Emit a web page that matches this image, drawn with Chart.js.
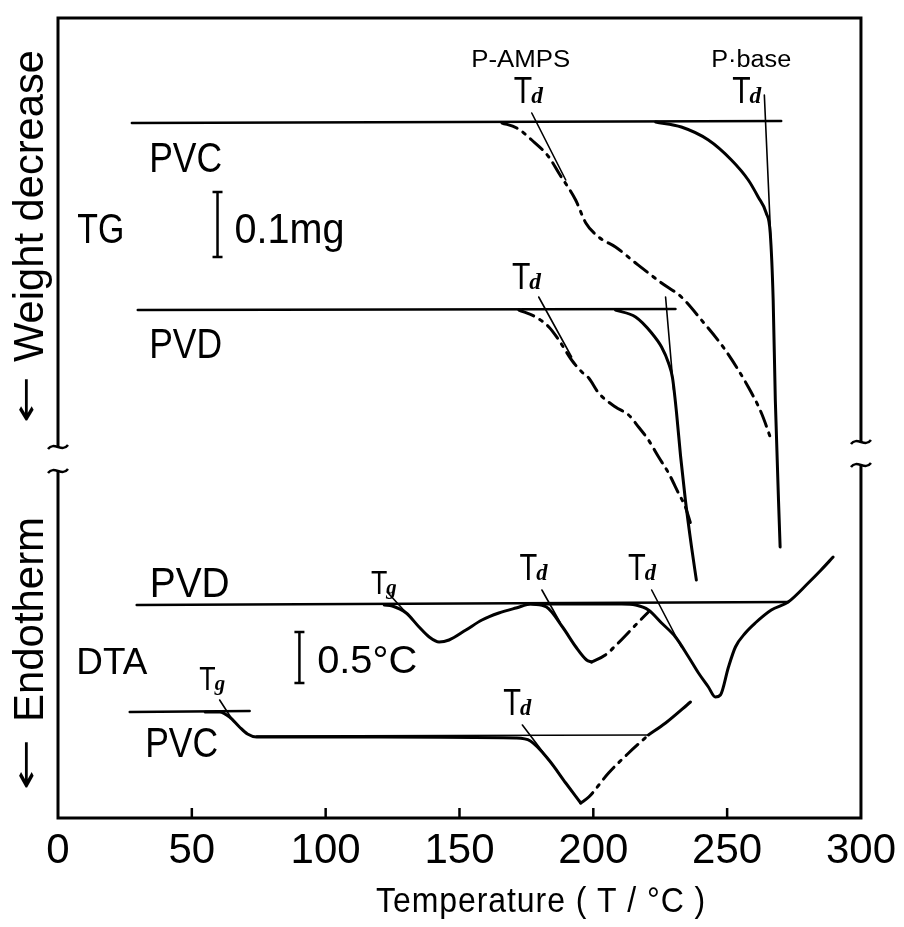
<!DOCTYPE html>
<html><head><meta charset="utf-8">
<script src="https://cdn.jsdelivr.net/npm/chart.js@4/dist/chart.umd.min.js"></script>
<style>html,body{margin:0;padding:0;background:#fff}#c{display:block}</style>
</head><body>
<canvas id="c" width="904" height="927"></canvas>
<script>
// ================= DATA (temperature in °C, signal in arbitrary units) =================
const xTicks = [0, 50, 100, 150, 200, 250, 300];

// ---- TG, PVC ----
const tgPvcRefT = [27.6, 270.2];
const tgPvcRefY = [695, 697];
const tgPvcAmpsT = [165.9, 171.4, 177.0, 183.4, 187.1, 193.4, 197.2, 202.0, 208.3, 215.8, 225.5, 232.9, 240.4, 249.3, 257.9, 262.8, 266.5];
const tgPvcAmpsY = [695, 690, 678, 661, 645, 618, 595, 581, 571, 555, 535, 521, 498, 468, 431, 405, 378];
const tgPvcPbaseT = [223.3, 232.9, 243.0, 251.6, 257.9, 261.6, 264.6, 266.1, 267.2, 268.0, 269.8];
const tgPvcPbaseY = [696, 691, 678, 658, 638, 621, 605, 585, 518, 418, 271];
const tgPvcAmpsTanT = [177.0, 189.7];
const tgPvcAmpsTanY = [705, 638];
const tgPvcPbaseTanT = [263.9, 266.3];
const tgPvcPbaseTanY = [723, 580];

// ---- TG, PVD ----
const tgPvdRefT = [29.8, 230.7];
const tgPvdRefY = [508, 509];
const tgPvdAmpsT = [172.2, 178.5, 183.4, 187.1, 191.9, 195.7, 198.3, 202.0, 208.3, 213.2, 216.9, 220.6, 224.4, 228.1, 231.8, 234.4, 236.3];
const tgPvdAmpsY = [508, 501, 491, 478, 458, 446, 440, 425, 411, 403, 391, 378, 361, 345, 325, 311, 295];
const tgPvdPbaseT = [208.3, 215.8, 221.8, 225.5, 228.1, 229.6, 231.1, 232.6, 234.4, 236.7, 238.5];
const tgPvdPbaseY = [508, 501, 485, 471, 455, 440, 405, 362, 318, 271, 238];
const tgPvdAmpsTanT = [179.6, 191.9];
const tgPvdAmpsTanY = [521, 461];
const tgPvdPbaseTanT = [227.0, 230.0];
const tgPvdPbaseTanY = [521, 428];

// ---- DTA, PVD ----
const dtaPvdRefT = [29.4, 272.8];
const dtaPvdRefY = [213, 216];
const dtaPvdPbaseT = [121.9, 124.9, 130.1, 134.9, 138.7, 142.4, 146.1, 152.4, 158.4, 164.7, 171.1, 177.0, 194.6, 210.6, 215.8, 220.6, 225.5, 230.7, 235.6, 239.3, 243.0, 245.6, 247.5, 250.5, 253.1, 256.8, 260.5, 266.5, 272.8, 280.3, 285.1, 289.6];
const dtaPvdPbaseY = [213, 212, 205, 191, 181, 176, 178, 188, 198, 205, 210, 214, 214, 214, 213, 208, 195, 181, 161, 145, 131, 121, 123, 151, 171, 185, 195, 208, 216, 235, 248, 261];
const dtaPvdAmpsDropT = [177.0, 182.5, 188.5, 193.5, 197.5, 199.4];
const dtaPvdAmpsDropY = [214, 211, 191, 171, 158, 156];
const dtaPvdAmpsRiseT = [199.4, 204.5, 209.3, 215.8, 220.6];
const dtaPvdAmpsRiseY = [156, 163, 175, 193, 206];
const dtaPvdTgTanT = [123.0, 134.9];
const dtaPvdTgTanY = [226, 191];
const dtaPvdTd1TanT = [180.8, 187.5];
const dtaPvdTd1TanY = [228, 196];
const dtaPvdTd2TanT = [221.8, 232.9];
const dtaPvdTd2TanY = [228, 171];

// ---- DTA, PVC ----
const dtaPvcRefLeftT = [26.8, 71.6];
const dtaPvcRefLeftY = [106, 107];
const dtaPvcRefRightT = [74.2, 220.6];
const dtaPvcRefRightY = [82, 83];
const dtaPvcCurveT = [55.0, 60.4, 64.1, 67.8, 70.8, 74.2, 120.0, 171.0, 176.5, 183.4, 189.7, 195.3];
const dtaPvcCurveY = [106, 106, 101, 91, 84, 81, 81, 80, 77, 58, 35, 15];
const dtaPvcRiseDashT = [195.3, 198.3, 205.7, 213.2, 220.6];
const dtaPvcRiseDashY = [15, 21, 45, 65, 83];
const dtaPvcRiseSolidT = [220.6, 227.0, 236.3];
const dtaPvcRiseSolidY = [83, 95, 116];
const dtaPvcTgTanT = [60.4, 65.2];
const dtaPvcTgTanY = [118, 98];
const dtaPvcTdTanT = [173.5, 187.1];
const dtaPvcTdTanY = [93, 45];

// ================= STYLE / LAYOUT =================
const FONT = '"Liberation Sans", Arial, "DejaVu Sans", sans-serif';
const ARROW_FONT = '"DejaVu Sans", sans-serif';
const SOLID = { borderWidth: 3 };
const DASHDOT = { borderWidth: 3, borderDash: [16, 7, 3, 7] };
const REF = { borderWidth: 2.5 };
const TAN = { borderWidth: 1.6 };

function line(xs, ys, style, smooth) {
  return Object.assign({
    data: xs.map((x, i) => ({ x: x, y: ys[i] })),
    showLine: true, pointRadius: 0, borderColor: '#000', fill: false,
    cubicInterpolationMode: smooth ? 'monotone' : 'default', tension: 0,
    borderCapStyle: 'round', borderJoinStyle: 'round'
  }, style);
}

const datasets = [
  line(tgPvcRefT, tgPvcRefY, REF),
  line(tgPvcAmpsT, tgPvcAmpsY, DASHDOT, true),
  line(tgPvcPbaseT, tgPvcPbaseY, SOLID, true),
  line(tgPvcAmpsTanT, tgPvcAmpsTanY, TAN),
  line(tgPvcPbaseTanT, tgPvcPbaseTanY, TAN),
  line(tgPvdRefT, tgPvdRefY, REF),
  line(tgPvdAmpsT, tgPvdAmpsY, DASHDOT, true),
  line(tgPvdPbaseT, tgPvdPbaseY, SOLID, true),
  line(tgPvdAmpsTanT, tgPvdAmpsTanY, TAN),
  line(tgPvdPbaseTanT, tgPvdPbaseTanY, TAN),
  line(dtaPvdRefT, dtaPvdRefY, REF),
  line(dtaPvdPbaseT, dtaPvdPbaseY, SOLID, true),
  line(dtaPvdAmpsDropT, dtaPvdAmpsDropY, SOLID, true),
  line(dtaPvdAmpsRiseT, dtaPvdAmpsRiseY, DASHDOT, true),
  line(dtaPvdTgTanT, dtaPvdTgTanY, TAN),
  line(dtaPvdTd1TanT, dtaPvdTd1TanY, TAN),
  line(dtaPvdTd2TanT, dtaPvdTd2TanY, TAN),
  line(dtaPvcRefLeftT, dtaPvcRefLeftY, REF),
  line(dtaPvcRefRightT, dtaPvcRefRightY, TAN),
  line(dtaPvcCurveT, dtaPvcCurveY, SOLID, true),
  line(dtaPvcRiseDashT, dtaPvcRiseDashY, DASHDOT, true),
  line(dtaPvcRiseSolidT, dtaPvcRiseSolidY, SOLID, true),
  line(dtaPvcTgTanT, dtaPvcTgTanY, TAN),
  line(dtaPvcTdTanT, dtaPvcTdTanY, TAN)
];

// text annotations: position (t, y) = cap centre in data units, cap = cap height px, w = width px
const textNotes = [
  { text: 'P-AMPS', t: 172.9, y: 759.5, cap: 17, w: 99 },
  { text: 'P\u00B7base', t: 259.0, y: 759.5, cap: 17, w: 80 },
  { text: 'PVC', t: 47.7, y: 661, cap: 30, w: 73 },
  { text: 'TG', t: 16.0, y: 590, cap: 30, w: 47 },
  { text: '0.1mg', t: 86.5, y: 590, cap: 30, w: 110 },
  { text: 'PVD', t: 47.7, y: 475, cap: 30, w: 73 },
  { text: 'PVD', t: 49.2, y: 236, cap: 30, w: 80 },
  { text: 'DTA', t: 20.1, y: 158, cap: 27, w: 71 },
  { text: '0.5\u00B0C', t: 115.5, y: 159, cap: 28, w: 100 },
  { text: 'PVC', t: 46.2, y: 76, cap: 30, w: 73 },
  { text: 'Temperature ( T / \u00B0C )', t: 180.5, y: -81, cap: 25, w: 330, spacing: 1 }
];
const subNotes = [
  { main: 'T', sub: 'd', t: 175.9, y: 729, cap: 27 },
  { main: 'T', sub: 'd', t: 257.5, y: 729, cap: 27 },
  { main: 'T', sub: 'd', t: 175.2, y: 543, cap: 27 },
  { main: 'T', sub: 'd', t: 177.8, y: 251, cap: 26 },
  { main: 'T', sub: 'd', t: 218.4, y: 251, cap: 26 },
  { main: 'T', sub: 'd', t: 171.8, y: 116, cap: 26 },
  { main: 'T', sub: 'g', t: 121.9, y: 236, cap: 24 },
  { main: 'T', sub: 'g', t: 57.8, y: 140, cap: 24 }
];
// rotated side titles: word and arrow (y = centre in data units, len = length px)
const sideTitles = [
  { text: 'Weight decrease', y: 612, len: 312, cap: 30, arrowY: 418, arrowLen: 47 },
  { text: 'Endotherm', y: 198.5, len: 205, cap: 30, arrowY: 53, arrowLen: 52 }
];
const scaleBars = [
  { t: 59.6, y1: 561, y2: 626 },
  { t: 90.2, y1: 135, y2: 186 }
];
const innerTicks = [50, 100, 150, 200, 250];
const leftBreak = [371, 347];
const rightBreak = [376, 353];

function fitText(ctx, text, cx, cyCap, cap, w, spacing) {
  const size = cap / 0.716;
  ctx.save();
  ctx.font = size + 'px ' + FONT;
  if (spacing && 'letterSpacing' in ctx) ctx.letterSpacing = spacing + 'px';
  const m = ctx.measureText(text).width;
  const sx = w ? w / m : 1;
  ctx.translate(cx, cyCap + cap / 2);
  ctx.scale(sx, 1);
  ctx.textAlign = 'center';
  ctx.textBaseline = 'alphabetic';
  ctx.fillText(text, 0, 0);
  ctx.restore();
}
function subText(ctx, main, sub, cx, cyCap, cap) {
  const size = cap / 0.716;
  const base = cyCap + cap / 2;
  ctx.save();
  ctx.font = size + 'px ' + FONT;
  const mw = ctx.measureText(main).width * 0.8;
  const subFont = 'italic bold ' + (size * 0.62) + 'px "Liberation Serif", serif';
  ctx.font = subFont;
  const sw = ctx.measureText(sub).width;
  const x0 = cx - (mw + sw) / 2;
  ctx.textAlign = 'left';
  ctx.textBaseline = 'alphabetic';
  ctx.save();
  ctx.font = size + 'px ' + FONT;
  ctx.translate(x0, base);
  ctx.scale(0.8, 1);
  ctx.fillText(main, 0, 0);
  ctx.restore();
  ctx.font = subFont;
  ctx.fillText(sub, x0 + mw - 1, base);
  ctx.restore();
}
function tilde(ctx, x, y) {
  ctx.beginPath();
  ctx.moveTo(x - 10, y + 2);
  ctx.bezierCurveTo(x - 4, y - 6, x + 4, y + 6, x + 10, y - 2);
  ctx.stroke();
}

const decor = {
  id: 'decor',
  afterDatasetsDraw(chart) {
    const ctx = chart.ctx;
    const xs = chart.scales.x, ys = chart.scales.y;
    const a = chart.chartArea;
    ctx.save();
    ctx.strokeStyle = '#000';
    ctx.fillStyle = '#000';
    ctx.lineCap = 'butt';
    // frame with axis breaks
    ctx.lineWidth = 3;
    const lb0 = ys.getPixelForValue(leftBreak[0]), lb1 = ys.getPixelForValue(leftBreak[1]);
    const rb0 = ys.getPixelForValue(rightBreak[0]), rb1 = ys.getPixelForValue(rightBreak[1]);
    ctx.beginPath();
    ctx.moveTo(a.left, lb0); ctx.lineTo(a.left, a.top); ctx.lineTo(a.right, a.top); ctx.lineTo(a.right, rb0);
    ctx.moveTo(a.left, lb1); ctx.lineTo(a.left, a.bottom); ctx.lineTo(a.right, a.bottom); ctx.lineTo(a.right, rb1);
    ctx.stroke();
    ctx.lineWidth = 2.5;
    tilde(ctx, a.left, lb0); tilde(ctx, a.left, lb1);
    tilde(ctx, a.right, rb0); tilde(ctx, a.right, rb1);
    // inward ticks
    innerTicks.forEach(t => {
      const px = xs.getPixelForValue(t);
      ctx.beginPath(); ctx.moveTo(px, a.bottom); ctx.lineTo(px, a.bottom - 10); ctx.stroke();
    });
    // scale bars
    scaleBars.forEach(b => {
      const px = xs.getPixelForValue(b.t);
      const p1 = ys.getPixelForValue(b.y1), p2 = ys.getPixelForValue(b.y2);
      ctx.beginPath();
      ctx.moveTo(px, p1); ctx.lineTo(px, p2);
      ctx.moveTo(px - 5, p1); ctx.lineTo(px + 5, p1);
      ctx.moveTo(px - 5, p2); ctx.lineTo(px + 5, p2);
      ctx.stroke();
    });
    // texts
    textNotes.forEach(n => fitText(ctx, n.text, xs.getPixelForValue(n.t), ys.getPixelForValue(n.y), n.cap, n.w, n.spacing));
    subNotes.forEach(n => subText(ctx, n.main, n.sub, xs.getPixelForValue(n.t), ys.getPixelForValue(n.y), n.cap));
    // rotated side titles
    sideTitles.forEach(s => {
      const cx = a.left - 30;
      const size = s.cap / 0.716;
      // word
      ctx.save();
      ctx.translate(cx, ys.getPixelForValue(s.y));
      ctx.rotate(-Math.PI / 2);
      ctx.font = size + 'px ' + FONT;
      let m = ctx.measureText(s.text).width;
      ctx.scale(s.len / m, 1);
      ctx.textAlign = 'center';
      ctx.textBaseline = 'alphabetic';
      ctx.fillText(s.text, 0, s.cap / 2);
      ctx.restore();
      // arrow
      ctx.save();
      ctx.translate(cx, ys.getPixelForValue(s.arrowY));
      ctx.rotate(-Math.PI / 2);
      ctx.font = '34px ' + ARROW_FONT;
      m = ctx.measureText('\u2190').width;
      ctx.scale(s.arrowLen / m, 1);
      ctx.textAlign = 'center';
      ctx.textBaseline = 'middle';
      ctx.fillText('\u2190', 0, 0);
      ctx.restore();
    });
    ctx.restore();
  }
};

new Chart(document.getElementById('c'), {
  type: 'scatter',
  data: { datasets: datasets },
  options: {
    responsive: false,
    animation: false,
    events: [],
    layout: { padding: { left: 58, right: 40, top: 18, bottom: 0 } },
    plugins: { legend: { display: false }, tooltip: { enabled: false } },
    scales: {
      x: {
        type: 'linear', min: 0, max: 300, position: 'bottom',
        afterBuildTicks: s => { s.ticks = xTicks.map(v => ({ value: v })); },
        afterFit: s => { s.height = 109; },
        grid: { display: false, drawTicks: false },
        border: { display: false },
        ticks: { color: '#000', padding: 8, maxRotation: 0, autoSkip: false, font: { family: FONT, size: 42 } },
        title: { display: false }
      },
      y: { type: 'linear', min: 0, max: 800, display: false }
    }
  },
  plugins: [decor]
});
</script>
</body></html>
